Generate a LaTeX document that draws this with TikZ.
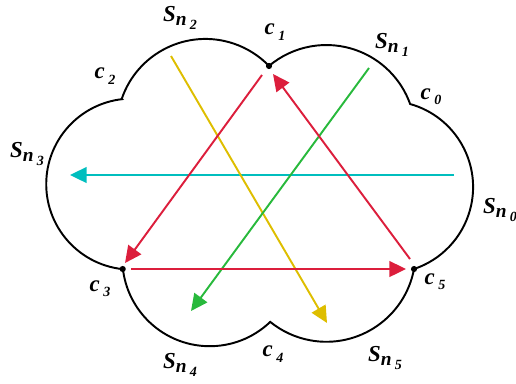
\documentclass[tikz,border=0pt]{standalone}
\usepackage{fontspec}
\setmainfont{Liberation Serif}
\usetikzlibrary{arrows.meta}
\definecolor{raycyan}{RGB}{0,190,190}
\definecolor{rayred}{RGB}{220,30,60}
\definecolor{raygreen}{RGB}{40,185,60}
\definecolor{rayyellow}{RGB}{222,190,0}
\newcommand{\Slab}[1]{S\raisebox{-0.35ex}{\fontsize{11}{11}\selectfont n\,\raisebox{-0.45ex}{\fontsize{8}{8}\selectfont #1}}}
\newcommand{\clab}[1]{c\,\raisebox{-0.5ex}{\fontsize{8}{8}\selectfont #1}}
\begin{document}
\begin{tikzpicture}[x=0.02cm, y=-0.02cm,
  cloud/.style={draw, line width=1.1pt, line join=miter},
  ray/.style={line width=1.1pt, -{Triangle[length=9.5pt, width=9pt]}},
  lab/.style={font=\fontsize{13}{13}\selectfont\bfseries\itshape, inner sep=0pt},
  cusp/.style={circle, fill, inner sep=0pt, minimum size=3.5pt}
]
\useasboundingbox (0,0) rectangle (516,383);
% cusps of the cloud
\coordinate (c0) at (410,104);
\coordinate (c1) at (269,66);
\coordinate (c2) at (121.7,99);
\coordinate (c3) at (122.7,269);
\coordinate (c4) at (270,321.7);
\coordinate (c5) at (414,269);
% outline, clockwise from c2
\draw[cloud] (c2) arc[start angle=-161.3, end angle=-44, radius=88.4]
  arc[start angle=-130.1, end angle=-19.7, radius=89]
  arc[start angle=-74.3, end angle=71.6, radius=86.3]
  arc[start angle=10.6, end angle=129, radius=89.2]
  arc[start angle=46.2, end angle=173.2, radius=87.4]
  arc[start angle=95.9, end angle=263.4, radius=85.5] -- cycle;
\foreach \c in {c1,c3,c5} {
  \node[cusp] (dot-\c) at (\c) {};
}
% rays
\coordinate (cy-s) at (454,175);  \coordinate (cy-e) at (70,175);
\coordinate (ye-s) at (171,56);   \coordinate (ye-e) at (327,323);
\coordinate (gr-s) at (369,68);   \coordinate (gr-e) at (191,311);
\coordinate (ra-s) at (262,75);   \coordinate (ra-e) at (125,263);
\coordinate (rb-s) at (131,269);  \coordinate (rb-e) at (406,269);
\coordinate (rc-s) at (410,259);  \coordinate (rc-e) at (273,74);
\draw[ray, raycyan] (cy-s) -- (cy-e);
\draw[ray, rayyellow] (ye-s) -- (ye-e);
\draw[ray, raygreen] (gr-s) -- (gr-e);
\draw[ray, rayred] (ra-s) -- (ra-e);
\draw[ray, rayred] (rb-s) -- (rb-e);
\draw[ray, rayred] (rc-s) -- (rc-e);
% labels
\foreach \n/\x/\y/\t in {sn0/500/210/{\Slab{0}}, sn1/392/45/{\Slab{1}},
    sn2/180/18/{\Slab{2}}, sn3/27/154/{\Slab{3}}, sn4/180/365/{\Slab{4}},
    sn5/385/358/{\Slab{5}}, lc0/431/97/{\clab{0}}, lc1/275/32/{\clab{1}},
    lc2/105/76/{\clab{2}}, lc3/100/289/{\clab{3}}, lc4/273/354/{\clab{4}},
    lc5/435/282/{\clab{5}}} {
  \node[lab] (\n) at (\x,\y) {\t};
}
\end{tikzpicture}
\end{document}
